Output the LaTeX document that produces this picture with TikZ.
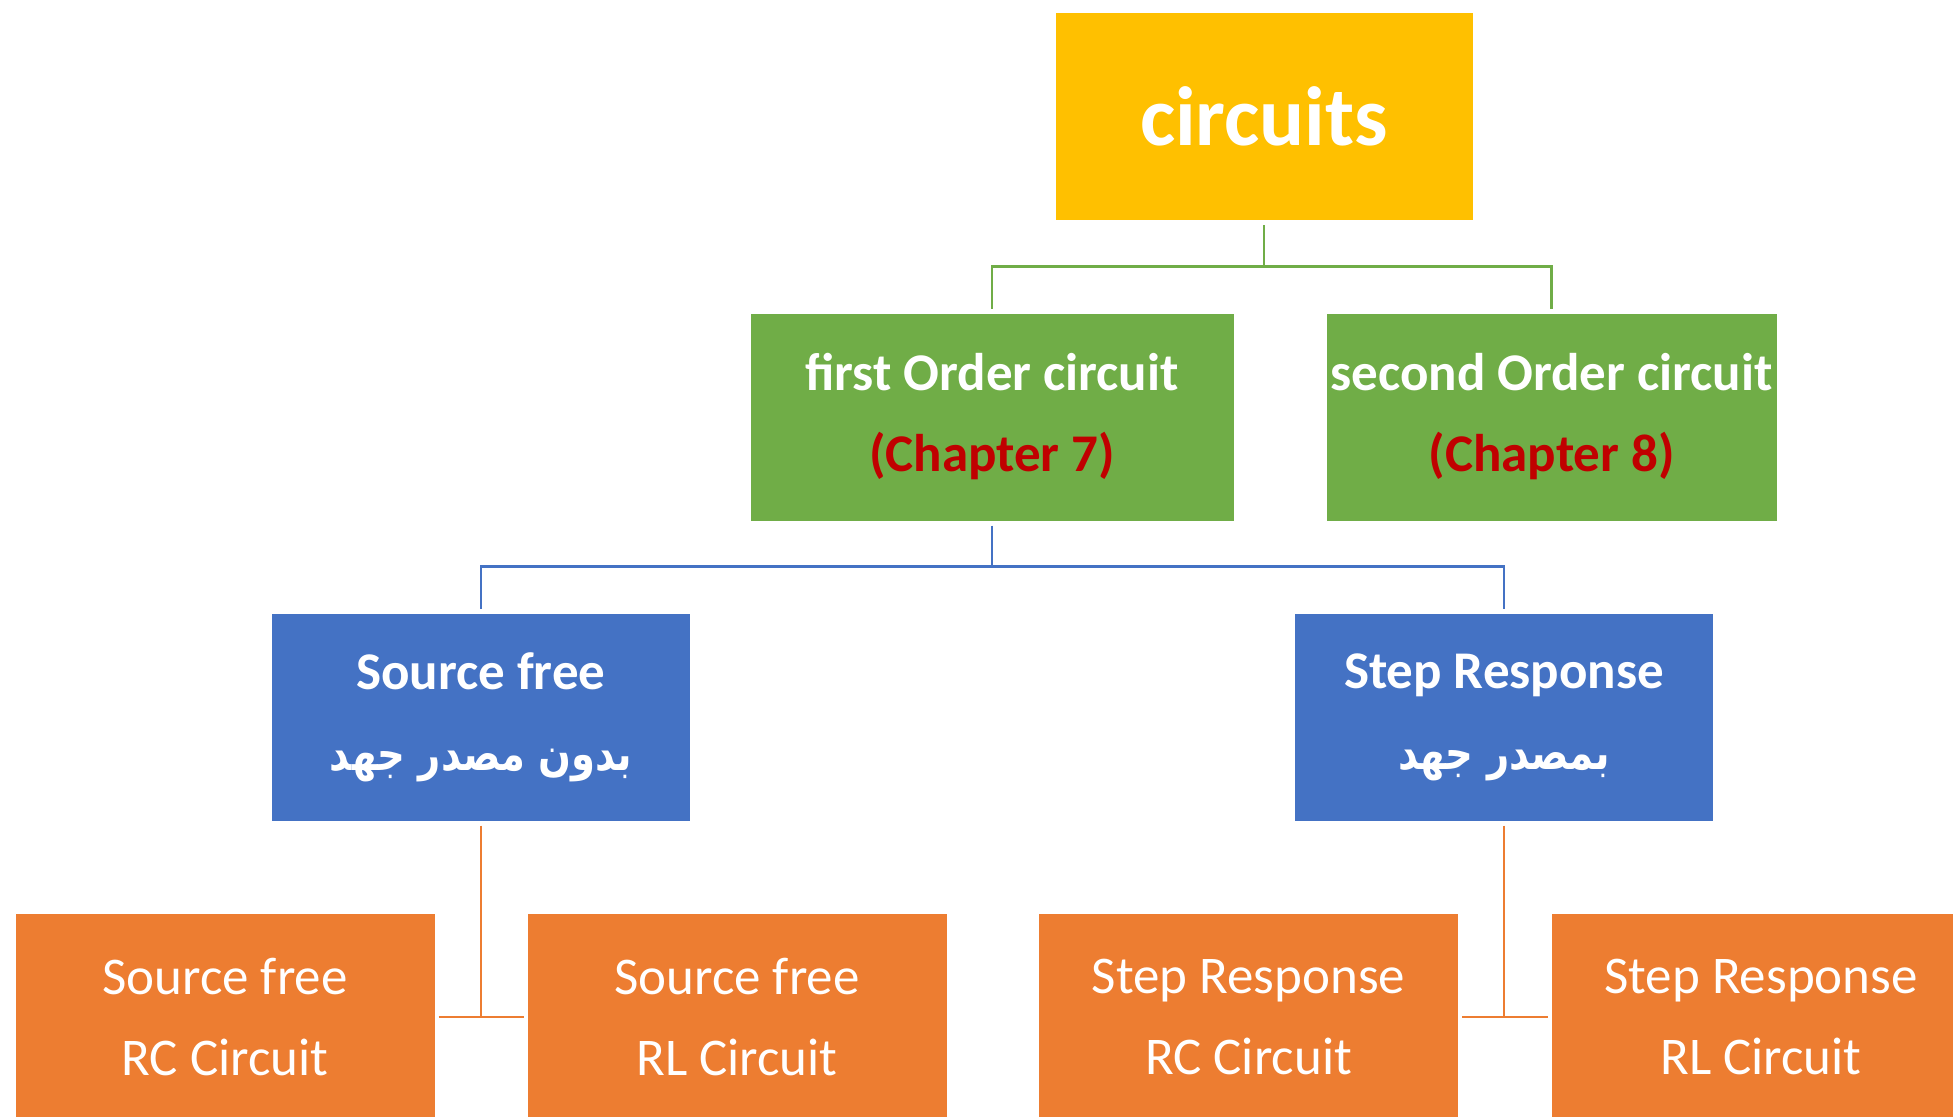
\documentclass[tikz,border=0pt]{standalone}
\usepackage{fontspec}
\setmainfont{Carlito}
\newfontfamily\arabicfont[Script=Arabic]{DejaVu Sans}
\TeXXeTstate=1
\definecolor{topgold}{HTML}{FFC000}
\definecolor{ordgreen}{HTML}{70AD47}
\definecolor{kindblue}{HTML}{4472C4}
\definecolor{leaforange}{HTML}{ED7D31}
\definecolor{chapred}{HTML}{C00000}
\tikzset{
  box/.style={rectangle, draw=white, line width=1pt, inner sep=0pt,
    text=white, align=center},
  rootbox/.style={box, fill=topgold, minimum width=418pt, minimum height=208pt,
    font=\fontsize{84}{100}\selectfont\bfseries},
  orderbox/.style={box, fill=ordgreen, minimum height=208pt,
    font=\fontsize{53}{81}\selectfont\bfseries},
  kindbox/.style={box, fill=kindblue, minimum width=419pt, minimum height=208pt,
    font=\fontsize{53}{81}\selectfont\bfseries},
  leafbox/.style={box, fill=leaforange, minimum width=420pt, minimum height=208pt,
    font=\fontsize{53}{81}\selectfont},
  link/.style={line width=2.5pt},
  gline/.style={link, draw=ordgreen},
  bline/.style={link, draw=kindblue},
  oline/.style={link, draw=leaforange},
}
% Arabic subtitle line, set a little narrower than the font's natural width
\newcommand{\artext}[1]{\scalebox{0.82}[1]{\arabicfont\fontsize{47}{81}\selectfont\bfseries\beginR #1\endR}}
\begin{document}
\begin{tikzpicture}[x=1pt, y=-1pt]
  \useasboundingbox (0,0) rectangle (1953,1116);
  \clip (0,0) rectangle (1953,1116);
  \fill[white] (0,0) rectangle (1953,1116);

  % boxes
  \node[rootbox] (root) at (1264,116.5) {circuits};
  \node[orderbox, minimum width=484pt] (first) at (992,417)
    {first Order circuit\\\textcolor{chapred}{(Chapter 7)}};
  \node[orderbox, minimum width=451pt] (second) at (1551.5,417)
    {second Order circuit\\\textcolor{chapred}{(Chapter 8)}};
  \node[kindbox] (sfree) at (481,717)
    {Source free\\\artext{بدون مصدر جهد}};
  \node[kindbox] (step) at (1504,717)
    {Step Response\\\artext{بمصدر جهد}};
  \node[leafbox] (sfrc) at (225,1017) {Source free\\RC Circuit};
  \node[leafbox] (sfrl) at (737,1017) {Source free\\RL Circuit};
  \node[leafbox] (strc) at (1248.5,1017) {Step Response\\RC Circuit};
  \node[leafbox] (strl) at (1761,1017) {Step Response\\RL Circuit};

  % bus levels
  \coordinate (gbus) at (0,266.5);
  \coordinate (bbus) at (0,566.5);

  % root to order boxes
  \draw[gline, shorten <=4pt] (root.south) -- (root.south |- gbus);
  \draw[gline, shorten <=4pt, shorten >=4pt] (first.north) |- (gbus -| second.north) -- (second.north);

  % first order to the two kinds
  \draw[bline, shorten <=4pt] (first.south) -- (first.south |- bbus);
  \draw[bline, shorten <=4pt, shorten >=4pt] (sfree.north) |- (bbus -| step.north) -- (step.north);

  % kinds to leaves
  \draw[oline, shorten <=4pt] (sfree.south) -- (sfree.south |- sfrc.east);
  \draw[oline, shorten <=3pt, shorten >=3pt] (sfrc.east) -- (sfrl.west);
  \draw[oline, shorten <=4pt] (step.south) -- (step.south |- strc.east);
  \draw[oline, shorten <=3pt, shorten >=3pt] (strc.east) -- (strl.west);
\end{tikzpicture}
\end{document}
